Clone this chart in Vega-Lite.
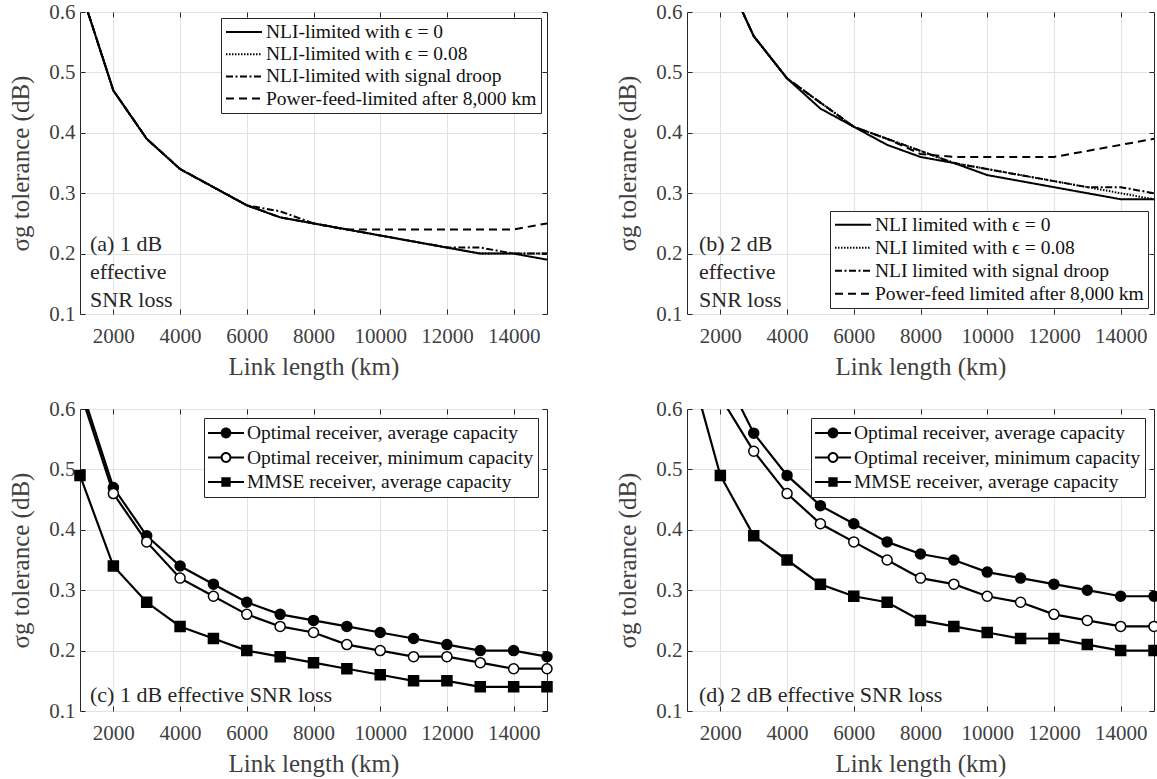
{
  "$schema": "https://vega.github.io/schema/vega-lite/v6.json",
  "background": "white",
  "padding": {"left": 8, "top": 0, "right": 0, "bottom": 0},
  "datasets": {
    "a": [
      {"x": 1000, "y": 0.64, "s": "NLI-limited with ϵ = 0"}, {"x": 2000, "y": 0.47, "s": "NLI-limited with ϵ = 0"}, {"x": 3000, "y": 0.39, "s": "NLI-limited with ϵ = 0"}, {"x": 4000, "y": 0.34, "s": "NLI-limited with ϵ = 0"}, {"x": 5000, "y": 0.31, "s": "NLI-limited with ϵ = 0"}, {"x": 6000, "y": 0.28, "s": "NLI-limited with ϵ = 0"}, {"x": 7000, "y": 0.26, "s": "NLI-limited with ϵ = 0"}, {"x": 8000, "y": 0.25, "s": "NLI-limited with ϵ = 0"}, {"x": 9000, "y": 0.24, "s": "NLI-limited with ϵ = 0"}, {"x": 10000, "y": 0.23, "s": "NLI-limited with ϵ = 0"}, {"x": 11000, "y": 0.22, "s": "NLI-limited with ϵ = 0"}, {"x": 12000, "y": 0.21, "s": "NLI-limited with ϵ = 0"}, {"x": 13000, "y": 0.20, "s": "NLI-limited with ϵ = 0"}, {"x": 14000, "y": 0.20, "s": "NLI-limited with ϵ = 0"}, {"x": 15000, "y": 0.19, "s": "NLI-limited with ϵ = 0"},
      {"x": 1000, "y": 0.64, "s": "NLI-limited with ϵ = 0.08"}, {"x": 2000, "y": 0.47, "s": "NLI-limited with ϵ = 0.08"}, {"x": 3000, "y": 0.39, "s": "NLI-limited with ϵ = 0.08"}, {"x": 4000, "y": 0.34, "s": "NLI-limited with ϵ = 0.08"}, {"x": 5000, "y": 0.31, "s": "NLI-limited with ϵ = 0.08"}, {"x": 6000, "y": 0.28, "s": "NLI-limited with ϵ = 0.08"}, {"x": 7000, "y": 0.26, "s": "NLI-limited with ϵ = 0.08"}, {"x": 8000, "y": 0.25, "s": "NLI-limited with ϵ = 0.08"}, {"x": 9000, "y": 0.24, "s": "NLI-limited with ϵ = 0.08"}, {"x": 10000, "y": 0.23, "s": "NLI-limited with ϵ = 0.08"}, {"x": 11000, "y": 0.22, "s": "NLI-limited with ϵ = 0.08"}, {"x": 12000, "y": 0.21, "s": "NLI-limited with ϵ = 0.08"}, {"x": 13000, "y": 0.20, "s": "NLI-limited with ϵ = 0.08"}, {"x": 14000, "y": 0.20, "s": "NLI-limited with ϵ = 0.08"}, {"x": 15000, "y": 0.20, "s": "NLI-limited with ϵ = 0.08"},
      {"x": 1000, "y": 0.64, "s": "NLI-limited with signal droop"}, {"x": 2000, "y": 0.47, "s": "NLI-limited with signal droop"}, {"x": 3000, "y": 0.39, "s": "NLI-limited with signal droop"}, {"x": 4000, "y": 0.34, "s": "NLI-limited with signal droop"}, {"x": 5000, "y": 0.31, "s": "NLI-limited with signal droop"}, {"x": 6000, "y": 0.28, "s": "NLI-limited with signal droop"}, {"x": 7000, "y": 0.27, "s": "NLI-limited with signal droop"}, {"x": 8000, "y": 0.25, "s": "NLI-limited with signal droop"}, {"x": 9000, "y": 0.24, "s": "NLI-limited with signal droop"}, {"x": 10000, "y": 0.23, "s": "NLI-limited with signal droop"}, {"x": 11000, "y": 0.22, "s": "NLI-limited with signal droop"}, {"x": 12000, "y": 0.21, "s": "NLI-limited with signal droop"}, {"x": 13000, "y": 0.21, "s": "NLI-limited with signal droop"}, {"x": 14000, "y": 0.20, "s": "NLI-limited with signal droop"}, {"x": 15000, "y": 0.20, "s": "NLI-limited with signal droop"},
      {"x": 1000, "y": 0.64, "s": "Power-feed-limited after 8,000 km"}, {"x": 2000, "y": 0.47, "s": "Power-feed-limited after 8,000 km"}, {"x": 3000, "y": 0.39, "s": "Power-feed-limited after 8,000 km"}, {"x": 4000, "y": 0.34, "s": "Power-feed-limited after 8,000 km"}, {"x": 5000, "y": 0.31, "s": "Power-feed-limited after 8,000 km"}, {"x": 6000, "y": 0.28, "s": "Power-feed-limited after 8,000 km"}, {"x": 7000, "y": 0.26, "s": "Power-feed-limited after 8,000 km"}, {"x": 8000, "y": 0.25, "s": "Power-feed-limited after 8,000 km"}, {"x": 9000, "y": 0.24, "s": "Power-feed-limited after 8,000 km"}, {"x": 10000, "y": 0.24, "s": "Power-feed-limited after 8,000 km"}, {"x": 11000, "y": 0.24, "s": "Power-feed-limited after 8,000 km"}, {"x": 12000, "y": 0.24, "s": "Power-feed-limited after 8,000 km"}, {"x": 13000, "y": 0.24, "s": "Power-feed-limited after 8,000 km"}, {"x": 14000, "y": 0.24, "s": "Power-feed-limited after 8,000 km"}, {"x": 15000, "y": 0.25, "s": "Power-feed-limited after 8,000 km"}
    ],
    "b": [
      {"x": 2000, "y": 0.68, "s": "NLI limited with ϵ = 0"}, {"x": 3000, "y": 0.56, "s": "NLI limited with ϵ = 0"}, {"x": 4000, "y": 0.49, "s": "NLI limited with ϵ = 0"}, {"x": 5000, "y": 0.44, "s": "NLI limited with ϵ = 0"}, {"x": 6000, "y": 0.41, "s": "NLI limited with ϵ = 0"}, {"x": 7000, "y": 0.38, "s": "NLI limited with ϵ = 0"}, {"x": 8000, "y": 0.36, "s": "NLI limited with ϵ = 0"}, {"x": 9000, "y": 0.35, "s": "NLI limited with ϵ = 0"}, {"x": 10000, "y": 0.33, "s": "NLI limited with ϵ = 0"}, {"x": 11000, "y": 0.32, "s": "NLI limited with ϵ = 0"}, {"x": 12000, "y": 0.31, "s": "NLI limited with ϵ = 0"}, {"x": 13000, "y": 0.30, "s": "NLI limited with ϵ = 0"}, {"x": 14000, "y": 0.29, "s": "NLI limited with ϵ = 0"}, {"x": 15000, "y": 0.29, "s": "NLI limited with ϵ = 0"},
      {"x": 2000, "y": 0.68, "s": "NLI limited with ϵ = 0.08"}, {"x": 3000, "y": 0.56, "s": "NLI limited with ϵ = 0.08"}, {"x": 4000, "y": 0.49, "s": "NLI limited with ϵ = 0.08"}, {"x": 5000, "y": 0.45, "s": "NLI limited with ϵ = 0.08"}, {"x": 6000, "y": 0.41, "s": "NLI limited with ϵ = 0.08"}, {"x": 7000, "y": 0.39, "s": "NLI limited with ϵ = 0.08"}, {"x": 8000, "y": 0.37, "s": "NLI limited with ϵ = 0.08"}, {"x": 9000, "y": 0.35, "s": "NLI limited with ϵ = 0.08"}, {"x": 10000, "y": 0.34, "s": "NLI limited with ϵ = 0.08"}, {"x": 11000, "y": 0.33, "s": "NLI limited with ϵ = 0.08"}, {"x": 12000, "y": 0.32, "s": "NLI limited with ϵ = 0.08"}, {"x": 13000, "y": 0.31, "s": "NLI limited with ϵ = 0.08"}, {"x": 14000, "y": 0.30, "s": "NLI limited with ϵ = 0.08"}, {"x": 15000, "y": 0.29, "s": "NLI limited with ϵ = 0.08"},
      {"x": 2000, "y": 0.68, "s": "NLI limited with signal droop"}, {"x": 3000, "y": 0.56, "s": "NLI limited with signal droop"}, {"x": 4000, "y": 0.49, "s": "NLI limited with signal droop"}, {"x": 5000, "y": 0.45, "s": "NLI limited with signal droop"}, {"x": 6000, "y": 0.41, "s": "NLI limited with signal droop"}, {"x": 7000, "y": 0.39, "s": "NLI limited with signal droop"}, {"x": 8000, "y": 0.37, "s": "NLI limited with signal droop"}, {"x": 9000, "y": 0.35, "s": "NLI limited with signal droop"}, {"x": 10000, "y": 0.34, "s": "NLI limited with signal droop"}, {"x": 11000, "y": 0.33, "s": "NLI limited with signal droop"}, {"x": 12000, "y": 0.32, "s": "NLI limited with signal droop"}, {"x": 13000, "y": 0.31, "s": "NLI limited with signal droop"}, {"x": 14000, "y": 0.31, "s": "NLI limited with signal droop"}, {"x": 15000, "y": 0.30, "s": "NLI limited with signal droop"},
      {"x": 2000, "y": 0.68, "s": "Power-feed limited after 8,000 km"}, {"x": 3000, "y": 0.56, "s": "Power-feed limited after 8,000 km"}, {"x": 4000, "y": 0.49, "s": "Power-feed limited after 8,000 km"}, {"x": 5000, "y": 0.45, "s": "Power-feed limited after 8,000 km"}, {"x": 6000, "y": 0.41, "s": "Power-feed limited after 8,000 km"}, {"x": 7000, "y": 0.39, "s": "Power-feed limited after 8,000 km"}, {"x": 8000, "y": 0.365, "s": "Power-feed limited after 8,000 km"}, {"x": 9000, "y": 0.36, "s": "Power-feed limited after 8,000 km"}, {"x": 10000, "y": 0.36, "s": "Power-feed limited after 8,000 km"}, {"x": 11000, "y": 0.36, "s": "Power-feed limited after 8,000 km"}, {"x": 12000, "y": 0.36, "s": "Power-feed limited after 8,000 km"}, {"x": 13000, "y": 0.37, "s": "Power-feed limited after 8,000 km"}, {"x": 14000, "y": 0.38, "s": "Power-feed limited after 8,000 km"}, {"x": 15000, "y": 0.39, "s": "Power-feed limited after 8,000 km"}
    ],
    "c": [
      {"x": 1000, "y": 0.64, "s": "Optimal receiver, average capacity"}, {"x": 2000, "y": 0.47, "s": "Optimal receiver, average capacity"}, {"x": 3000, "y": 0.39, "s": "Optimal receiver, average capacity"}, {"x": 4000, "y": 0.34, "s": "Optimal receiver, average capacity"}, {"x": 5000, "y": 0.31, "s": "Optimal receiver, average capacity"}, {"x": 6000, "y": 0.28, "s": "Optimal receiver, average capacity"}, {"x": 7000, "y": 0.26, "s": "Optimal receiver, average capacity"}, {"x": 8000, "y": 0.25, "s": "Optimal receiver, average capacity"}, {"x": 9000, "y": 0.24, "s": "Optimal receiver, average capacity"}, {"x": 10000, "y": 0.23, "s": "Optimal receiver, average capacity"}, {"x": 11000, "y": 0.22, "s": "Optimal receiver, average capacity"}, {"x": 12000, "y": 0.21, "s": "Optimal receiver, average capacity"}, {"x": 13000, "y": 0.20, "s": "Optimal receiver, average capacity"}, {"x": 14000, "y": 0.20, "s": "Optimal receiver, average capacity"}, {"x": 15000, "y": 0.19, "s": "Optimal receiver, average capacity"},
      {"x": 1000, "y": 0.63, "s": "Optimal receiver, minimum capacity"}, {"x": 2000, "y": 0.46, "s": "Optimal receiver, minimum capacity"}, {"x": 3000, "y": 0.38, "s": "Optimal receiver, minimum capacity"}, {"x": 4000, "y": 0.32, "s": "Optimal receiver, minimum capacity"}, {"x": 5000, "y": 0.29, "s": "Optimal receiver, minimum capacity"}, {"x": 6000, "y": 0.26, "s": "Optimal receiver, minimum capacity"}, {"x": 7000, "y": 0.24, "s": "Optimal receiver, minimum capacity"}, {"x": 8000, "y": 0.23, "s": "Optimal receiver, minimum capacity"}, {"x": 9000, "y": 0.21, "s": "Optimal receiver, minimum capacity"}, {"x": 10000, "y": 0.20, "s": "Optimal receiver, minimum capacity"}, {"x": 11000, "y": 0.19, "s": "Optimal receiver, minimum capacity"}, {"x": 12000, "y": 0.19, "s": "Optimal receiver, minimum capacity"}, {"x": 13000, "y": 0.18, "s": "Optimal receiver, minimum capacity"}, {"x": 14000, "y": 0.17, "s": "Optimal receiver, minimum capacity"}, {"x": 15000, "y": 0.17, "s": "Optimal receiver, minimum capacity"},
      {"x": 1000, "y": 0.49, "s": "MMSE receiver, average capacity"}, {"x": 2000, "y": 0.34, "s": "MMSE receiver, average capacity"}, {"x": 3000, "y": 0.28, "s": "MMSE receiver, average capacity"}, {"x": 4000, "y": 0.24, "s": "MMSE receiver, average capacity"}, {"x": 5000, "y": 0.22, "s": "MMSE receiver, average capacity"}, {"x": 6000, "y": 0.20, "s": "MMSE receiver, average capacity"}, {"x": 7000, "y": 0.19, "s": "MMSE receiver, average capacity"}, {"x": 8000, "y": 0.18, "s": "MMSE receiver, average capacity"}, {"x": 9000, "y": 0.17, "s": "MMSE receiver, average capacity"}, {"x": 10000, "y": 0.16, "s": "MMSE receiver, average capacity"}, {"x": 11000, "y": 0.15, "s": "MMSE receiver, average capacity"}, {"x": 12000, "y": 0.15, "s": "MMSE receiver, average capacity"}, {"x": 13000, "y": 0.14, "s": "MMSE receiver, average capacity"}, {"x": 14000, "y": 0.14, "s": "MMSE receiver, average capacity"}, {"x": 15000, "y": 0.14, "s": "MMSE receiver, average capacity"}
    ],
    "d": [
      {"x": 2000, "y": 0.67, "s": "Optimal receiver, average capacity"}, {"x": 3000, "y": 0.56, "s": "Optimal receiver, average capacity"}, {"x": 4000, "y": 0.49, "s": "Optimal receiver, average capacity"}, {"x": 5000, "y": 0.44, "s": "Optimal receiver, average capacity"}, {"x": 6000, "y": 0.41, "s": "Optimal receiver, average capacity"}, {"x": 7000, "y": 0.38, "s": "Optimal receiver, average capacity"}, {"x": 8000, "y": 0.36, "s": "Optimal receiver, average capacity"}, {"x": 9000, "y": 0.35, "s": "Optimal receiver, average capacity"}, {"x": 10000, "y": 0.33, "s": "Optimal receiver, average capacity"}, {"x": 11000, "y": 0.32, "s": "Optimal receiver, average capacity"}, {"x": 12000, "y": 0.31, "s": "Optimal receiver, average capacity"}, {"x": 13000, "y": 0.30, "s": "Optimal receiver, average capacity"}, {"x": 14000, "y": 0.29, "s": "Optimal receiver, average capacity"}, {"x": 15000, "y": 0.29, "s": "Optimal receiver, average capacity"},
      {"x": 2000, "y": 0.62, "s": "Optimal receiver, minimum capacity"}, {"x": 3000, "y": 0.53, "s": "Optimal receiver, minimum capacity"}, {"x": 4000, "y": 0.46, "s": "Optimal receiver, minimum capacity"}, {"x": 5000, "y": 0.41, "s": "Optimal receiver, minimum capacity"}, {"x": 6000, "y": 0.38, "s": "Optimal receiver, minimum capacity"}, {"x": 7000, "y": 0.35, "s": "Optimal receiver, minimum capacity"}, {"x": 8000, "y": 0.32, "s": "Optimal receiver, minimum capacity"}, {"x": 9000, "y": 0.31, "s": "Optimal receiver, minimum capacity"}, {"x": 10000, "y": 0.29, "s": "Optimal receiver, minimum capacity"}, {"x": 11000, "y": 0.28, "s": "Optimal receiver, minimum capacity"}, {"x": 12000, "y": 0.26, "s": "Optimal receiver, minimum capacity"}, {"x": 13000, "y": 0.25, "s": "Optimal receiver, minimum capacity"}, {"x": 14000, "y": 0.24, "s": "Optimal receiver, minimum capacity"}, {"x": 15000, "y": 0.24, "s": "Optimal receiver, minimum capacity"},
      {"x": 1000, "y": 0.69, "s": "MMSE receiver, average capacity"}, {"x": 2000, "y": 0.49, "s": "MMSE receiver, average capacity"}, {"x": 3000, "y": 0.39, "s": "MMSE receiver, average capacity"}, {"x": 4000, "y": 0.35, "s": "MMSE receiver, average capacity"}, {"x": 5000, "y": 0.31, "s": "MMSE receiver, average capacity"}, {"x": 6000, "y": 0.29, "s": "MMSE receiver, average capacity"}, {"x": 7000, "y": 0.28, "s": "MMSE receiver, average capacity"}, {"x": 8000, "y": 0.25, "s": "MMSE receiver, average capacity"}, {"x": 9000, "y": 0.24, "s": "MMSE receiver, average capacity"}, {"x": 10000, "y": 0.23, "s": "MMSE receiver, average capacity"}, {"x": 11000, "y": 0.22, "s": "MMSE receiver, average capacity"}, {"x": 12000, "y": 0.22, "s": "MMSE receiver, average capacity"}, {"x": 13000, "y": 0.21, "s": "MMSE receiver, average capacity"}, {"x": 14000, "y": 0.20, "s": "MMSE receiver, average capacity"}, {"x": 15000, "y": 0.20, "s": "MMSE receiver, average capacity"}
    ]
  },
  "columns": 2,
  "spacing": {"row": 95, "column": 140},
  "bounds": "flush",
  "resolve": {"scale": {"strokeDash": "independent", "shape": "independent", "fill": "independent"}, "legend": {"strokeDash": "independent", "shape": "independent", "fill": "independent"}},
  "concat": [
    {
      "width": 467, "height": 302,
      "resolve": {"axis": {"x": "independent", "y": "independent"}},
      "layer": [
        {
          "data": {"name": "a"},
          "mark": {"type": "line", "clip": true, "color": "black", "strokeWidth": 2},
          "encoding": {
            "x": {"field": "x", "type": "quantitative", "scale": {"domain": [1000, 15000], "nice": false, "zero": false}, "axis": {"values": [2000, 4000, 6000, 8000, 10000, 12000, 14000], "format": "d", "title": "Link length (km)"}},
            "y": {"field": "y", "type": "quantitative", "scale": {"domain": [0.1, 0.6], "nice": false, "zero": false}, "axis": {"values": [0.1, 0.2, 0.3, 0.4, 0.5, 0.6], "format": ".1f", "title": "σg tolerance (dB)"}},
            "strokeDash": {"field": "s", "type": "nominal", "scale": {"domain": ["NLI-limited with ϵ = 0", "NLI-limited with ϵ = 0.08", "NLI-limited with signal droop", "Power-feed-limited after 8,000 km"], "range": [[1, 0], [1.5, 1.5], [7, 2.5, 2, 2.5], [8, 5]]}, "legend": {"title": null, "orient": "top-right", "offset": 6, "symbolSize": 1296, "clipHeight": 20, "rowPadding": 2.2, "symbolStrokeWidth": 2}}
          }
        },
        {
          "data": {"values": [{}]},
          "mark": {"type": "text", "align": "left", "baseline": "top", "fontSize": 22, "lineHeight": 28, "color": "#262626", "text": ["(a) 1 dB", "effective", "SNR loss"]},
          "encoding": {
            "x": {"datum": 1300, "type": "quantitative", "scale": {"domain": [1000, 15000], "nice": false, "zero": false}, "axis": {"orient": "top", "values": [2000, 4000, 6000, 8000, 10000, 12000, 14000], "labels": false, "grid": false, "title": null}},
            "y": {"datum": 0.232, "type": "quantitative", "scale": {"domain": [0.1, 0.6], "nice": false, "zero": false}, "axis": {"orient": "right", "values": [0.1, 0.2, 0.3, 0.4, 0.5, 0.6], "labels": false, "grid": false, "title": null}}
          }
        }
      ]
    },
    {
      "width": 467, "height": 302,
      "resolve": {"axis": {"x": "independent", "y": "independent"}},
      "layer": [
        {
          "data": {"name": "b"},
          "mark": {"type": "line", "clip": true, "color": "black", "strokeWidth": 2},
          "encoding": {
            "x": {"field": "x", "type": "quantitative", "scale": {"domain": [1000, 15000], "nice": false, "zero": false}, "axis": {"values": [2000, 4000, 6000, 8000, 10000, 12000, 14000], "format": "d", "title": "Link length (km)"}},
            "y": {"field": "y", "type": "quantitative", "scale": {"domain": [0.1, 0.6], "nice": false, "zero": false}, "axis": {"values": [0.1, 0.2, 0.3, 0.4, 0.5, 0.6], "format": ".1f", "title": "σg tolerance (dB)"}},
            "strokeDash": {"field": "s", "type": "nominal", "scale": {"domain": ["NLI limited with ϵ = 0", "NLI limited with ϵ = 0.08", "NLI limited with signal droop", "Power-feed limited after 8,000 km"], "range": [[1, 0], [1.5, 1.5], [7, 2.5, 2, 2.5], [8, 5]]}, "legend": {"title": null, "orient": "bottom-right", "offset": 6, "symbolSize": 1296, "clipHeight": 19.5, "rowPadding": 2, "symbolStrokeWidth": 2}}
          }
        },
        {
          "data": {"values": [{}]},
          "mark": {"type": "text", "align": "left", "baseline": "top", "fontSize": 22, "lineHeight": 28, "color": "#262626", "text": ["(b) 2 dB", "effective", "SNR loss"]},
          "encoding": {
            "x": {"datum": 1360, "type": "quantitative", "scale": {"domain": [1000, 15000], "nice": false, "zero": false}, "axis": {"orient": "top", "values": [2000, 4000, 6000, 8000, 10000, 12000, 14000], "labels": false, "grid": false, "title": null}},
            "y": {"datum": 0.232, "type": "quantitative", "scale": {"domain": [0.1, 0.6], "nice": false, "zero": false}, "axis": {"orient": "right", "values": [0.1, 0.2, 0.3, 0.4, 0.5, 0.6], "labels": false, "grid": false, "title": null}}
          }
        }
      ]
    },
    {
      "width": 467, "height": 302,
      "resolve": {"scale": {"shape": "independent", "fill": "independent"}, "axis": {"x": "independent", "y": "independent"}},
      "layer": [
        {
          "data": {"name": "c"},
          "mark": {"type": "line", "clip": true, "color": "black", "strokeWidth": 2.2},
          "encoding": {
            "x": {"field": "x", "type": "quantitative", "scale": {"domain": [1000, 15000], "nice": false, "zero": false}, "axis": {"values": [2000, 4000, 6000, 8000, 10000, 12000, 14000], "format": "d", "title": "Link length (km)"}},
            "y": {"field": "y", "type": "quantitative", "scale": {"domain": [0.1, 0.6], "nice": false, "zero": false}, "axis": {"values": [0.1, 0.2, 0.3, 0.4, 0.5, 0.6], "format": ".1f", "title": "σg tolerance (dB)"}},
            "detail": {"field": "s", "type": "nominal"}
          }
        },
        {
          "data": {"name": "c"},
          "transform": [{"filter": "datum.y <= 0.6"}],
          "mark": {"type": "point", "filled": true, "stroke": "black", "strokeWidth": 1.5, "size": 100, "opacity": 1},
          "encoding": {
            "x": {"field": "x", "type": "quantitative", "scale": {"domain": [1000, 15000], "nice": false, "zero": false}, "axis": null},
            "y": {"field": "y", "type": "quantitative", "scale": {"domain": [0.1, 0.6], "nice": false, "zero": false}, "axis": null},
            "shape": {"field": "s", "type": "nominal", "scale": {"domain": ["Optimal receiver, average capacity", "Optimal receiver, minimum capacity", "MMSE receiver, average capacity"], "range": ["circle", "circle", "square"]}, "legend": null},
            "fill": {"field": "s", "type": "nominal", "scale": {"domain": ["Optimal receiver, average capacity", "Optimal receiver, minimum capacity", "MMSE receiver, average capacity"], "range": ["black", "white", "black"]}, "legend": null}
          }
        },
        {
          "data": {"name": "c"},
          "mark": {"type": "point", "filled": true, "fill": "black", "opacity": 0},
          "encoding": {
            "x": {"field": "x", "type": "quantitative", "scale": {"domain": [1000, 15000], "nice": false, "zero": false}, "axis": null},
            "y": {"field": "y", "type": "quantitative", "scale": {"domain": [0.1, 0.6], "nice": false, "zero": false}, "axis": null},
            "shape": {"field": "s", "type": "nominal", "scale": {"domain": ["Optimal receiver, average capacity", "Optimal receiver, minimum capacity", "MMSE receiver, average capacity"], "range": ["M-1,-0.055L1,-0.055L1,0.055L-1,0.055ZM-0.3,0A0.3,0.3,0,1,1,0.3,0A0.3,0.3,0,1,1,-0.3,0Z", "M-1,-0.055L-0.25,-0.055L-0.25,0.055L-1,0.055ZM0.25,-0.055L1,-0.055L1,0.055L0.25,0.055ZM-0.3,0A0.3,0.3,0,1,1,0.3,0A0.3,0.3,0,1,1,-0.3,0ZM-0.19,0A0.19,0.19,0,1,0,0.19,0A0.19,0.19,0,1,0,-0.19,0Z", "M-1,-0.055L1,-0.055L1,0.055L-1,0.055ZM-0.26,-0.26L0.26,-0.26L0.26,0.26L-0.26,0.26Z"]}, "legend": {"title": null, "orient": "top-right", "offset": 9, "symbolSize": 1296, "clipHeight": 22, "rowPadding": 2.5, "symbolStrokeWidth": 0, "symbolFillColor": "black", "symbolOpacity": 1}}
          }
        },
        {
          "data": {"values": [{}]},
          "mark": {"type": "text", "align": "left", "baseline": "middle", "fontSize": 22, "color": "#262626", "text": "(c) 1 dB effective SNR loss"},
          "encoding": {
            "x": {"datum": 1300, "type": "quantitative", "scale": {"domain": [1000, 15000], "nice": false, "zero": false}, "axis": {"orient": "top", "values": [2000, 4000, 6000, 8000, 10000, 12000, 14000], "labels": false, "grid": false, "title": null}},
            "y": {"datum": 0.127, "type": "quantitative", "scale": {"domain": [0.1, 0.6], "nice": false, "zero": false}, "axis": {"orient": "right", "values": [0.1, 0.2, 0.3, 0.4, 0.5, 0.6], "labels": false, "grid": false, "title": null}}
          }
        }
      ]
    },
    {
      "width": 467, "height": 302,
      "resolve": {"scale": {"shape": "independent", "fill": "independent"}, "axis": {"x": "independent", "y": "independent"}},
      "layer": [
        {
          "data": {"name": "d"},
          "mark": {"type": "line", "clip": true, "color": "black", "strokeWidth": 2.2},
          "encoding": {
            "x": {"field": "x", "type": "quantitative", "scale": {"domain": [1000, 15000], "nice": false, "zero": false}, "axis": {"values": [2000, 4000, 6000, 8000, 10000, 12000, 14000], "format": "d", "title": "Link length (km)"}},
            "y": {"field": "y", "type": "quantitative", "scale": {"domain": [0.1, 0.6], "nice": false, "zero": false}, "axis": {"values": [0.1, 0.2, 0.3, 0.4, 0.5, 0.6], "format": ".1f", "title": "σg tolerance (dB)"}},
            "detail": {"field": "s", "type": "nominal"}
          }
        },
        {
          "data": {"name": "d"},
          "transform": [{"filter": "datum.y <= 0.6"}],
          "mark": {"type": "point", "filled": true, "stroke": "black", "strokeWidth": 1.5, "size": 100, "opacity": 1},
          "encoding": {
            "x": {"field": "x", "type": "quantitative", "scale": {"domain": [1000, 15000], "nice": false, "zero": false}, "axis": null},
            "y": {"field": "y", "type": "quantitative", "scale": {"domain": [0.1, 0.6], "nice": false, "zero": false}, "axis": null},
            "shape": {"field": "s", "type": "nominal", "scale": {"domain": ["Optimal receiver, average capacity", "Optimal receiver, minimum capacity", "MMSE receiver, average capacity"], "range": ["circle", "circle", "square"]}, "legend": null},
            "fill": {"field": "s", "type": "nominal", "scale": {"domain": ["Optimal receiver, average capacity", "Optimal receiver, minimum capacity", "MMSE receiver, average capacity"], "range": ["black", "white", "black"]}, "legend": null}
          }
        },
        {
          "data": {"name": "d"},
          "mark": {"type": "point", "filled": true, "fill": "black", "opacity": 0},
          "encoding": {
            "x": {"field": "x", "type": "quantitative", "scale": {"domain": [1000, 15000], "nice": false, "zero": false}, "axis": null},
            "y": {"field": "y", "type": "quantitative", "scale": {"domain": [0.1, 0.6], "nice": false, "zero": false}, "axis": null},
            "shape": {"field": "s", "type": "nominal", "scale": {"domain": ["Optimal receiver, average capacity", "Optimal receiver, minimum capacity", "MMSE receiver, average capacity"], "range": ["M-1,-0.055L1,-0.055L1,0.055L-1,0.055ZM-0.3,0A0.3,0.3,0,1,1,0.3,0A0.3,0.3,0,1,1,-0.3,0Z", "M-1,-0.055L-0.25,-0.055L-0.25,0.055L-1,0.055ZM0.25,-0.055L1,-0.055L1,0.055L0.25,0.055ZM-0.3,0A0.3,0.3,0,1,1,0.3,0A0.3,0.3,0,1,1,-0.3,0ZM-0.19,0A0.19,0.19,0,1,0,0.19,0A0.19,0.19,0,1,0,-0.19,0Z", "M-1,-0.055L1,-0.055L1,0.055L-1,0.055ZM-0.26,-0.26L0.26,-0.26L0.26,0.26L-0.26,0.26Z"]}, "legend": {"title": null, "orient": "top-right", "offset": 9, "symbolSize": 1296, "clipHeight": 22, "rowPadding": 2.5, "symbolStrokeWidth": 0, "symbolFillColor": "black", "symbolOpacity": 1}}
          }
        },
        {
          "data": {"values": [{}]},
          "mark": {"type": "text", "align": "left", "baseline": "middle", "fontSize": 22, "color": "#262626", "text": "(d) 2 dB effective SNR loss"},
          "encoding": {
            "x": {"datum": 1360, "type": "quantitative", "scale": {"domain": [1000, 15000], "nice": false, "zero": false}, "axis": {"orient": "top", "values": [2000, 4000, 6000, 8000, 10000, 12000, 14000], "labels": false, "grid": false, "title": null}},
            "y": {"datum": 0.127, "type": "quantitative", "scale": {"domain": [0.1, 0.6], "nice": false, "zero": false}, "axis": {"orient": "right", "values": [0.1, 0.2, 0.3, 0.4, 0.5, 0.6], "labels": false, "grid": false, "title": null}}
          }
        }
      ]
    }
  ],
  "config": {
    "font": "Liberation Serif",
    "view": {"stroke": "#262626", "strokeWidth": 1},
    "axis": {"domain": false, "grid": true, "gridColor": "#e3e3e3", "gridWidth": 1, "ticks": true, "tickColor": "#262626", "tickSize": -5, "labelFont": "Liberation Serif", "labelFontSize": 21, "labelColor": "#404040", "titleFont": "Liberation Serif", "titleFontSize": 25, "titleFontWeight": "normal", "titleColor": "#404040"},
    "axisX": {"labelPadding": 16, "titlePadding": 8},
    "axisY": {"labelPadding": 10, "titlePadding": 15},
    "legend": {"labelFont": "Liberation Serif", "labelFontSize": 19.5, "labelColor": "#111111", "labelLimit": 500, "labelOffset": 3, "strokeColor": "#262626", "fillColor": "white", "padding": 4, "cornerRadius": 0},
    "text": {"font": "Liberation Serif"}
  }
}
